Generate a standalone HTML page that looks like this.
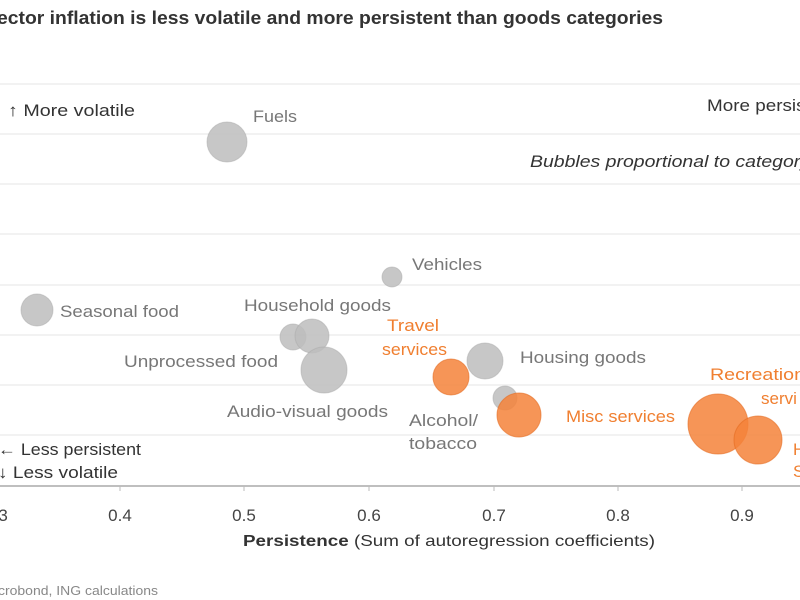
<!DOCTYPE html>
<html><head><meta charset="utf-8"><style>
html,body{margin:0;padding:0;background:#fff;width:800px;height:600px;overflow:hidden}
svg{display:block;font-family:"Liberation Sans",sans-serif}
</style></head><body>
<svg width="800" height="600" viewBox="0 0 800 600">
<text x="-3" y="24" font-size="18" fill="#333" font-weight="bold" textLength="666" lengthAdjust="spacingAndGlyphs">ector inflation is less volatile and more persistent than goods categories</text>
<g stroke="#ebebeb" stroke-width="1.3">
<line x1="0" y1="84" x2="800" y2="84"/><line x1="0" y1="134" x2="800" y2="134"/>
<line x1="0" y1="184" x2="800" y2="184"/><line x1="0" y1="234" x2="800" y2="234"/>
<line x1="0" y1="285" x2="800" y2="285"/><line x1="0" y1="335" x2="800" y2="335"/>
<line x1="0" y1="385" x2="800" y2="385"/><line x1="0" y1="435" x2="800" y2="435"/>
</g>
<line x1="0" y1="486" x2="800" y2="486" stroke="#999" stroke-width="1.2"/>
<g stroke="#bbb"><line x1="120" y1="486" x2="120" y2="491"/><line x1="244" y1="486" x2="244" y2="491"/><line x1="369" y1="486" x2="369" y2="491"/><line x1="494" y1="486" x2="494" y2="491"/><line x1="618" y1="486" x2="618" y2="491"/><line x1="742" y1="486" x2="742" y2="491"/></g>
<g font-size="17" fill="#444" text-anchor="middle">
<text x="-4" y="521">0.3</text><text x="120" y="521">0.4</text><text x="244" y="521">0.5</text><text x="369" y="521">0.6</text><text x="494" y="521">0.7</text><text x="618" y="521">0.8</text><text x="742" y="521">0.9</text>
</g>
<text x="243" y="546" font-size="16" fill="#333" textLength="412" lengthAdjust="spacingAndGlyphs"><tspan font-weight="bold">Persistence</tspan> (Sum of autoregression coefficients)</text>
<text x="-2" y="595" font-size="13" fill="#888" textLength="160" lengthAdjust="spacingAndGlyphs">crobond, ING calculations</text>
<g font-size="17" fill="#333">
<text x="8" y="116" textLength="127" lengthAdjust="spacingAndGlyphs">↑ More volatile</text>
<text x="707" y="111" textLength="130" lengthAdjust="spacingAndGlyphs">More persistent</text>
<text x="530" y="167" font-style="italic" textLength="280" lengthAdjust="spacingAndGlyphs">Bubbles proportional to category</text>
<text x="-2" y="455" textLength="143" lengthAdjust="spacingAndGlyphs">← Less persistent</text>
<text x="-2" y="478" textLength="120" lengthAdjust="spacingAndGlyphs">↓ Less volatile</text>
</g>
<g fill="#bdbdbd" fill-opacity="0.85" stroke="#aaa" stroke-opacity="0.5">
<circle cx="227" cy="142" r="20"/><circle cx="392" cy="277" r="10"/><circle cx="37" cy="310" r="16"/>
<circle cx="293" cy="337" r="13"/><circle cx="312" cy="336" r="17"/><circle cx="324" cy="370" r="23"/>
<circle cx="485" cy="361" r="18"/><circle cx="505" cy="398" r="12"/>
</g>
<g fill="#f5823a" fill-opacity="0.85" stroke="#e56b1f" stroke-opacity="0.6">
<circle cx="451" cy="377" r="18"/><circle cx="519" cy="415" r="22"/>
<circle cx="718" cy="424" r="30"/><circle cx="758" cy="440" r="24"/>
</g>
<g font-size="17" fill="#777" lengthAdjust="spacingAndGlyphs">
<text x="253" y="122" textLength="44" lengthAdjust="spacingAndGlyphs">Fuels</text>
<text x="412" y="270" textLength="70" lengthAdjust="spacingAndGlyphs">Vehicles</text>
<text x="60" y="317" textLength="119" lengthAdjust="spacingAndGlyphs">Seasonal food</text>
<text x="244" y="311" textLength="147" lengthAdjust="spacingAndGlyphs">Household goods</text>
<text x="124" y="367" textLength="154" lengthAdjust="spacingAndGlyphs">Unprocessed food</text>
<text x="227" y="417" textLength="161" lengthAdjust="spacingAndGlyphs">Audio-visual goods</text>
<text x="520" y="363" textLength="126" lengthAdjust="spacingAndGlyphs">Housing goods</text>
<text x="409" y="426" textLength="69" lengthAdjust="spacingAndGlyphs">Alcohol/</text>
<text x="409" y="449" textLength="68" lengthAdjust="spacingAndGlyphs">tobacco</text>
</g>
<g font-size="17" fill="#f07f30">
<text x="387" y="331" textLength="52" lengthAdjust="spacingAndGlyphs">Travel</text>
<text x="382" y="355" textLength="65" lengthAdjust="spacingAndGlyphs">services</text>
<text x="566" y="422" textLength="109" lengthAdjust="spacingAndGlyphs">Misc services</text>
<text x="710" y="380" textLength="95" lengthAdjust="spacingAndGlyphs">Recreation</text>
<text x="761" y="404">servi</text>
<text x="793" y="455">H</text><text x="793" y="477">S</text>
</g>
</svg>
</body></html>
